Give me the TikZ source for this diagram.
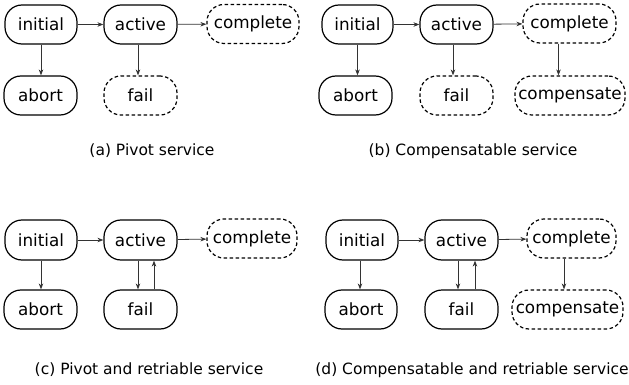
\documentclass[tikz,border=0pt]{standalone}
\usepackage{fontspec}
\setmainfont{DejaVu Sans}
\usetikzlibrary{arrows.meta}
\tikzset{
  state/.style={draw, line width=1.2pt, rounded corners=17pt, minimum height=39pt,
    inner sep=0pt, font=\fontsize{16.8}{18}\selectfont},
  opt/.style={state, dash pattern=on 3.5pt off 2.5pt},
  arr/.style={draw=black!80, line width=0.8pt, -{Stealth[length=6pt,width=4.5pt]}},
  captext/.style={font=\fontsize{15.5}{17}\selectfont}
}
\begin{document}
\begin{tikzpicture}[x=1pt,y=-1pt]
\useasboundingbox (0,0) rectangle (629,385);

% (a) pivot service
\node[state, minimum width=72pt] (ai) at (41,24.5) {initial};
\node[state, minimum width=73pt] (aa) at (140.5,24.5) {active};
\node[opt, minimum width=92pt] (ac) at (253,24) {complete};
\node[state, minimum width=73pt] (ab) at (40.5,95.5) {abort};
\node[opt, minimum width=73pt] (af) at (140.5,95.5) {fail};
\draw[arr] (ai) -- (aa);
\draw[arr] (aa) -- (ac);
\draw[arr] (ai.south) -- (ai.south |- ab.north);
\draw[arr] ([xshift=-2.5pt]aa.south) -- ([xshift=-2.5pt]aa.south |- af.north);
\node[captext] (acap) at (152,151) {(a) Pivot service};

% (b) compensatable service
\node[state, minimum width=71pt] (bi) at (357.5,24.5) {initial};
\node[state, minimum width=73pt] (ba) at (456.5,24.5) {active};
\node[opt, minimum width=93pt] (bc) at (569.5,23.5) {complete};
\node[state, minimum width=73pt] (bb) at (355.5,95.5) {abort};
\node[opt, minimum width=73pt] (bf) at (456.5,95.5) {fail};
\node[opt, minimum width=110pt] (bx) at (570,95.5) {compensate};
\draw[arr] (bi) -- (ba);
\draw[arr] (ba) -- (bc);
\draw[arr] (bi.south) -- (bi.south |- bb.north);
\draw[arr] ([xshift=-3.5pt]ba.south) -- ([xshift=-3.5pt]ba.south |- bf.north);
\draw[arr] ([xshift=-11pt]bc.south) -- ([xshift=-11pt]bc.south |- bx.north);
\node[captext] (bcap) at (473,151) {(b) Compensatable service};

% (c) pivot and retriable service
\node[state, minimum width=72pt, minimum height=40pt] (ci) at (41,240) {initial};
\node[state, minimum width=73pt, minimum height=40pt] (ca) at (140.5,240) {active};
\node[opt, minimum width=90pt] (cc) at (252,238.5) {complete};
\node[state, minimum width=73pt] (cb) at (40.5,309.5) {abort};
\node[state, minimum width=73pt] (cf) at (140.5,309.5) {fail};
\draw[arr] (ci) -- (ca);
\draw[arr] (ca) -- (cc);
\draw[arr] (ci.south) -- (ci.south |- cb.north);
\draw[arr] ([xshift=-2.5pt]ca.south) -- ([xshift=-2.5pt]ca.south |- cf.north);
\draw[arr] ([xshift=13.5pt]cf.north) -- ([xshift=13.5pt]cf.north |- ca.south);
\node[captext] (ccap) at (149,370) {(c) Pivot and retriable service};

% (d) compensatable and retriable service
\node[state, minimum width=72pt, minimum height=40pt] (di) at (362,240) {initial};
\node[state, minimum width=73pt, minimum height=40pt] (da) at (461.5,240) {active};
\node[opt, minimum width=89pt] (dc) at (571.5,238.5) {complete};
\node[state, minimum width=72pt] (db) at (361,309.5) {abort};
\node[state, minimum width=73pt] (df) at (461.5,309.5) {fail};
\node[opt, minimum width=111pt] (dx) at (567.5,309.5) {compensate};
\draw[arr] (di) -- (da);
\draw[arr] (da) -- (dc);
\draw[arr] ([xshift=-2pt]di.south) -- ([xshift=-2pt]di.south |- db.north);
\draw[arr] ([xshift=-3.5pt]da.south) -- ([xshift=-3.5pt]da.south |- df.north);
\draw[arr] ([xshift=13.5pt]df.north) -- ([xshift=13.5pt]df.north |- da.south);
\draw[arr] ([xshift=-7.5pt]dc.south) -- ([xshift=-7.5pt]dc.south |- dx.north);
\node[captext] (dcap) at (472,370) {(d) Compensatable and retriable service};
\end{tikzpicture}
\end{document}
